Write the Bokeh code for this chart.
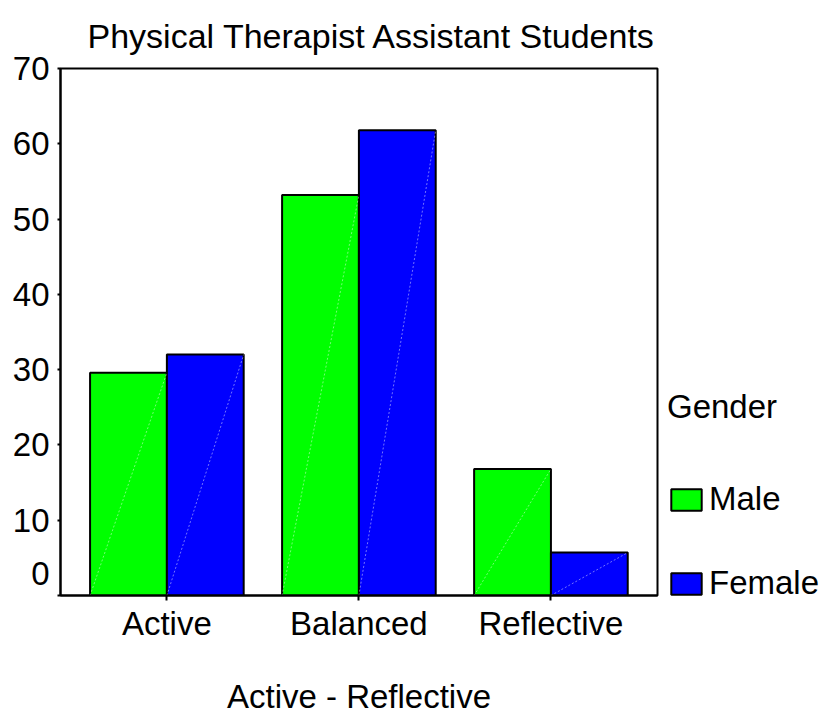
from bokeh.plotting import figure
from bokeh.models import (ColumnDataSource, Range1d, FixedTicker, Legend,
                          LegendItem)
from bokeh.embed import file_html
from bokeh.resources import INLINE
import numpy as np

# ---- data ----
categories = ["Active", "Balanced", "Reflective"]
male = [29.6, 53.2, 16.8]
female = [32.0, 61.8, 5.7]
y_ticks = [0, 10, 20, 30, 40, 50, 60, 70]
series_names = ["Male", "Female"]
legend_title = "Gender"
title_text = "Physical Therapist Assistant Students"
x_title = "Active - Reflective"

FONT = "Liberation Sans"
FS = "33px"
GREEN = "#00FF00"
BLUE = "#0000FF"
BW = 0.4

xs = np.arange(len(categories), dtype=float)
src = ColumnDataSource(dict(
    xm=xs - BW / 2, xf=xs + BW / 2,
    xm0=xs - BW, xm1=xs, xf0=xs, xf1=xs + BW,
    male=male, female=female,
))

X0, X1 = -0.554, 2.555
p = figure(frame_width=597, frame_height=527,
           min_border_left=60, min_border_top=68,
           min_border_right=154, min_border_bottom=118,
           x_range=Range1d(X0, X1), y_range=Range1d(0, 70),
           output_backend="svg", toolbar_location=None, tools="")

p.background_fill_color = "white"
p.border_fill_color = "white"
p.outline_line_color = "black"
p.outline_line_width = 2
p.grid.visible = False

# title
p.title.text = title_text
p.title.align = "left"
p.title.offset = 27
p.title.standoff = 28
p.title.text_font = FONT
p.title.text_font_size = "34px"
p.title.text_font_style = "normal"
p.title.text_color = "black"

rm = p.vbar(x="xm", top="male", bottom=0, width=BW, source=src,
            fill_color=GREEN, line_color="black", line_width=2)
rf = p.vbar(x="xf", top="female", bottom=0, width=BW, source=src,
            fill_color=BLUE, line_color="black", line_width=2)
p.segment(x0="xm0", y0=0, x1="xm1", y1="male", source=src,
          line_color="white", line_alpha=0.45, line_width=1, line_dash="2 2")
p.segment(x0="xf0", y0=0, x1="xf1", y1="female", source=src,
          line_color="white", line_alpha=0.45, line_width=1, line_dash="2 2")

# x axis
xa = p.xaxis[0]
xa.ticker = FixedTicker(ticks=list(xs))
xa.major_label_overrides = {int(i): c for i, c in enumerate(categories)}
xa.major_tick_in = 0
xa.major_tick_out = 5
xa.minor_tick_line_color = None
xa.axis_line_width = 2
xa.major_tick_line_width = 2
xa.major_label_standoff = 4
xa.major_label_text_font = FONT
xa.major_label_text_font_size = FS
xa.major_label_text_color = "black"
xa.axis_label = x_title
xa.axis_label_text_font = FONT
xa.axis_label_text_font_size = FS
xa.axis_label_text_font_style = "normal"
xa.axis_label_text_color = "black"
xa.axis_label_standoff = 33

# y axis ("0" label lifted above the axis line, as in the original)
ya = p.yaxis[0]
ya.ticker = FixedTicker(ticks=y_ticks)
ya.major_label_overrides = {y_ticks[0]: str(y_ticks[0]) + "\n "}
ya.major_tick_in = 0
ya.major_tick_out = 3
ya.minor_tick_line_color = None
ya.axis_line_width = 2
ya.major_tick_line_width = 2
ya.major_label_standoff = 8
ya.major_label_text_font = FONT
ya.major_label_text_font_size = FS
ya.major_label_text_color = "black"

legend = Legend(items=[LegendItem(label=series_names[0], renderers=[rm]),
                       LegendItem(label=series_names[1], renderers=[rf])],
                title=legend_title, title_standoff=54,
                title_text_font=FONT, title_text_font_size=FS,
                title_text_font_style="normal", title_text_color="black",
                location=(10, -7), orientation="vertical",
                glyph_width=38, glyph_height=27, label_height=27,
                label_standoff=4, spacing=46, padding=0, margin=0,
                label_text_font=FONT, label_text_font_size=FS,
                label_text_color="black",
                background_fill_alpha=0, border_line_alpha=0)
p.add_layout(legend, "right")

open("out.html", "w").write(file_html(p, INLINE))
